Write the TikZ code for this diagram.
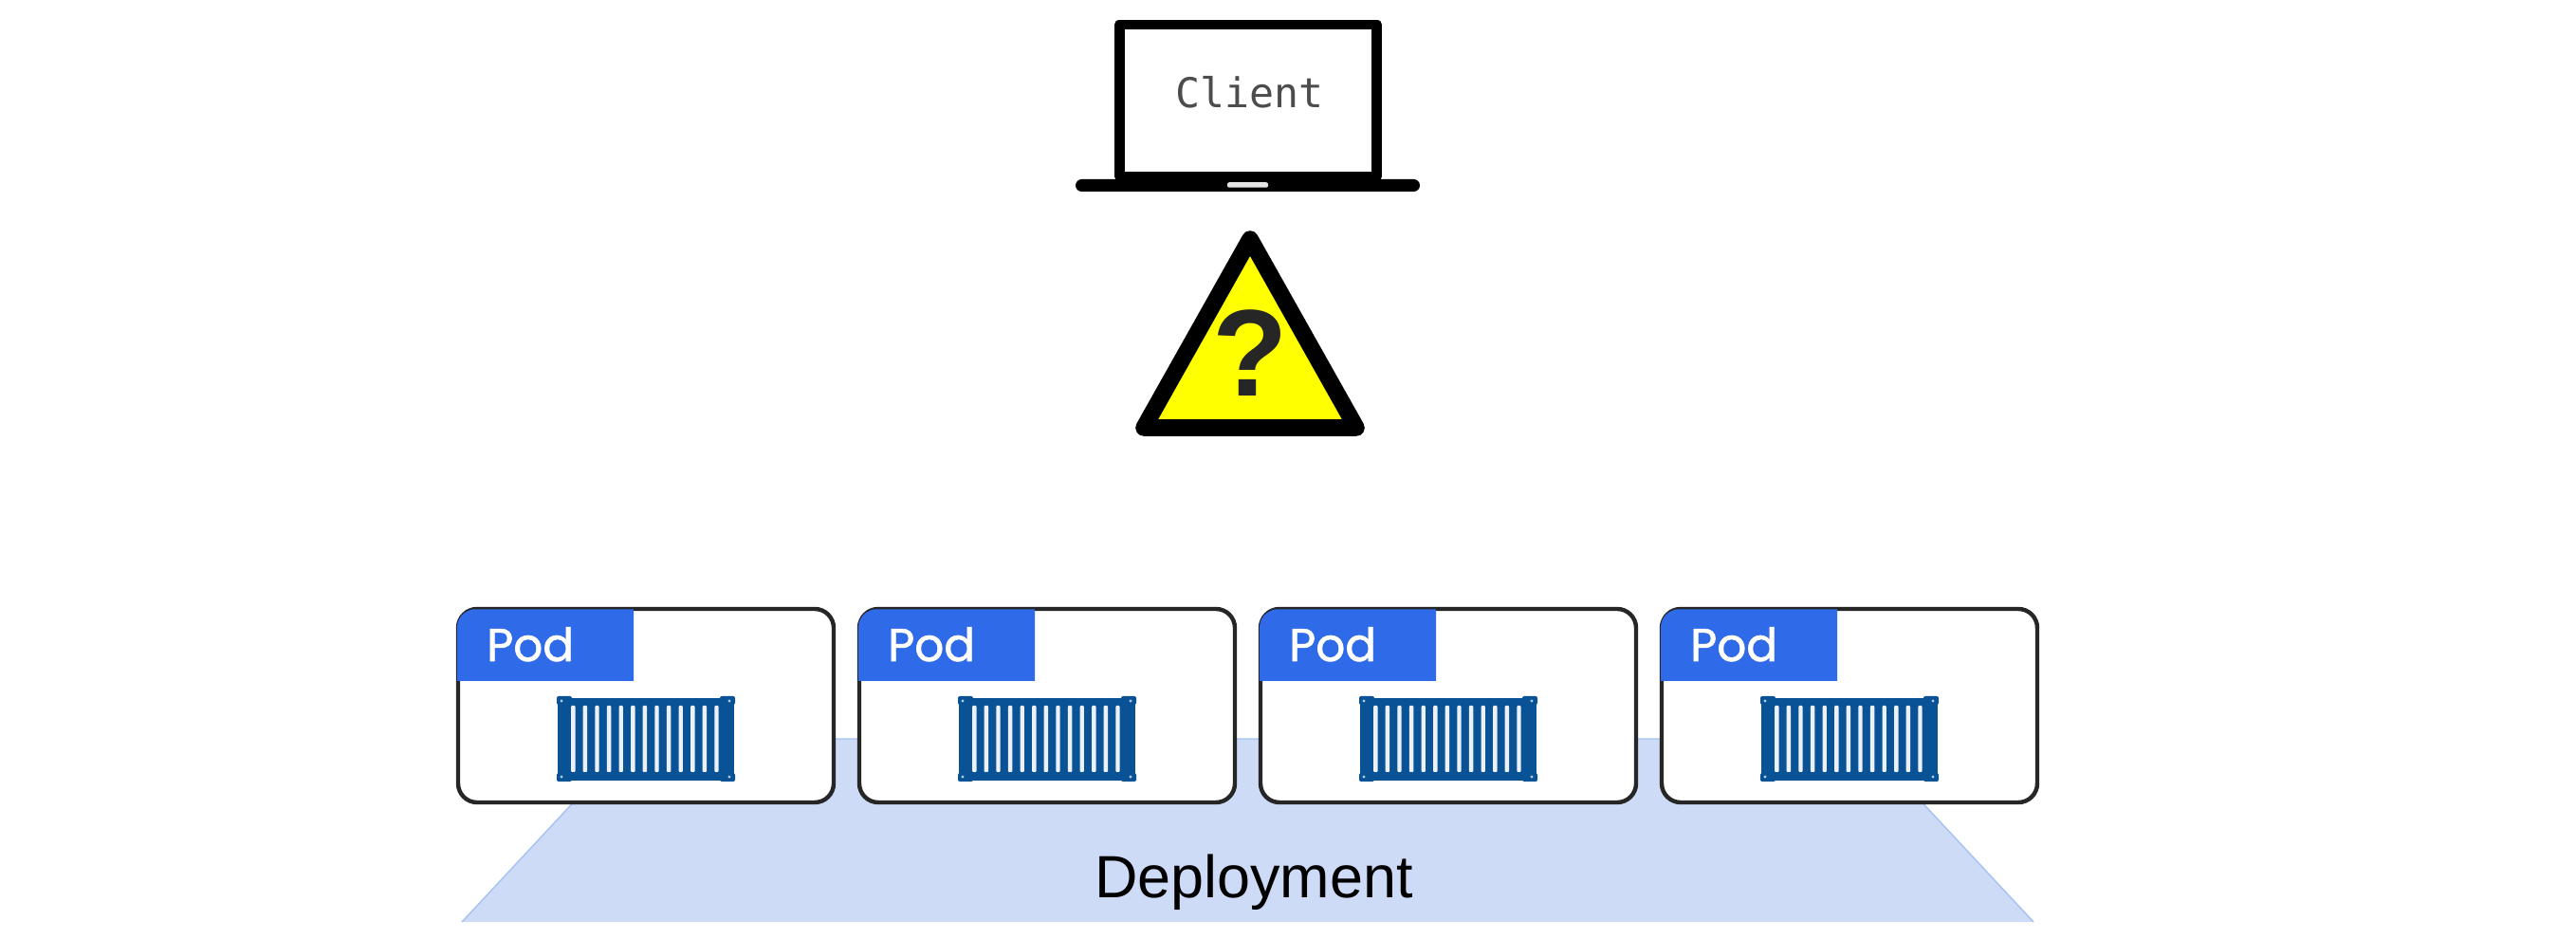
\documentclass[tikz,border=0pt]{standalone}
\usepackage{fontspec}
\setmainfont{Liberation Sans}
\setmonofont{DejaVu Sans Mono}
\newfontfamily\podfont[FakeBold=1.3]{Poppins}
\usetikzlibrary{positioning,backgrounds}

\definecolor{podblue}{HTML}{2F6BE8}
\definecolor{boxblue}{HTML}{0A5296}
\definecolor{deployfill}{HTML}{CDDBF7}
\definecolor{deployline}{HTML}{A4C2F4}
\definecolor{signyellow}{HTML}{FFFF00}

\tikzset{
    screen/.style={rectangle,draw=black,fill=white,line width=3.1pt,line join=round,
                   minimum width=27.15mm,minimum height=16mm,inner sep=0pt},
    laptopbase/.style={rectangle,fill=black,rounded corners=0.65mm,
                       minimum width=36.3mm,minimum height=1.3mm,inner sep=0pt},
    notch/.style={rectangle,fill=white!90!black,rounded corners=0.2mm,
                  minimum width=4.3mm,minimum height=0.55mm,inner sep=0pt},
    podbox/.style={rectangle,draw=black!85,fill=white,line width=1.25pt,rounded corners=2mm,
                   minimum width=39.6mm,minimum height=20.4mm,inner sep=0pt},
    podlabel/.style={anchor=base west,inner sep=0pt,text=white,font=\podfont\fontsize{13.8}{16}\selectfont},
    boxbody/.style={rectangle,fill=boxblue,minimum width=18.6mm,minimum height=8.7mm,inner sep=0pt},
    boxslat/.style={fill=white!92!boxblue,rounded corners=0.1mm},
    boxcorner/.style={fill=boxblue,rounded corners=0.2mm},
    boxpin/.style={fill=white!70!boxblue}
}

\begin{document}
\begin{tikzpicture}
    \useasboundingbox (0,0) rectangle (27.16,9.90);

    % laptop
    \node at (13.16, 8.84) (Screen) [screen]     {};
    \node at (13.155,7.945) (Base)  [laptopbase] {};
    \node at (13.155,7.95) (Notch)  [notch]      {};
    \node at (13.175,8.76) (Client) [anchor=base,inner sep=0pt,text=black!70,
                                     font=\ttfamily\fontsize{12.3}{14}\selectfont] {Client};

    % warning sign
    \draw [fill=signyellow,line width=5pt,line join=round] (13.18,7.38) -- (12.06,5.39) -- (14.30,5.39) -- cycle;
    \node at (13.18, 5.72) (Sign) [anchor=base,inner sep=0pt,text=black!85,
                                   font=\bfseries\fontsize{37}{40}\selectfont] {?};

    % one pod after the other
    \foreach \dx [count=\i] in {0,4.23,8.46,12.69} {
        \begin{scope}[xshift=\dx cm,yshift=-0.1mm]
            \node at (6.81, 2.47) (Pod\i) [podbox] {};
            \fill [podblue] (4.82,2.73) -- (4.82,3.30) [rounded corners=1.9mm] -- (4.82,3.485) -- (5.10,3.485)
                [sharp corners] -- (6.68,3.485) -- (6.68,2.73) -- cycle;
            \node at (5.125, 2.94) (PodText\i) [podlabel] {Pod};

            \node at (6.81, 2.115) (Box\i) [boxbody] {};
            \fill [boxcorner] (5.87,2.57) rectangle (6.03,2.48);
            \fill [boxcorner] (7.59,2.57) rectangle (7.75,2.48);
            \fill [boxcorner] (5.87,1.67) rectangle (6.03,1.76);
            \fill [boxcorner] (7.59,1.67) rectangle (7.75,1.76);
            \foreach \n in {0,...,12}
                \fill [boxslat] ({6.043+\n*0.126-0.022},1.77) rectangle ({6.043+\n*0.126+0.022},2.47);
            \fill [boxpin] (5.92,2.52) circle (0.017);
            \fill [boxpin] (7.69,2.52) circle (0.017);
            \fill [boxpin] (5.92,1.72) circle (0.017);
            \fill [boxpin] (7.69,1.72) circle (0.017);
        \end{scope}
    }

    \node at (13.22, 0.43) (Deployment) [anchor=base,inner sep=0pt,font=\fontsize{17.9}{20}\selectfont] {Deployment};

    \begin{scope}[on background layer]
        \fill [deployfill] (4.87,0.18) -- (6.67,2.11) -- (19.64,2.11) -- (21.44,0.18) -- cycle;
        \draw [deployline,line width=0.4pt] (4.87,0.18) -- (6.67,2.11) -- (19.64,2.11) -- (21.44,0.18);
    \end{scope}
\end{tikzpicture}
\end{document}
